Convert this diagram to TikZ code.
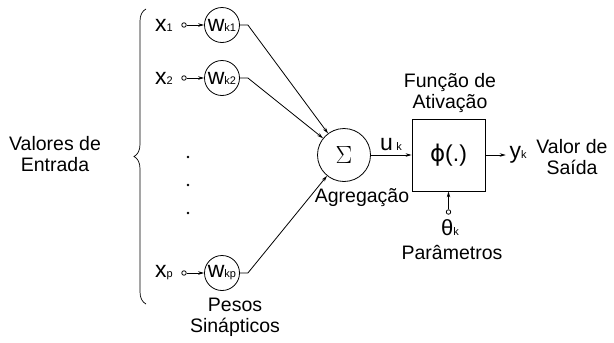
\documentclass[tikz,border=0pt]{standalone}
\usepackage{fontspec}
\setmainfont{Liberation Sans}
\newfontfamily\grk{DejaVu Sans}
\usetikzlibrary{arrows.meta,decorations.pathreplacing}

\newcommand{\biglet}[1]{{\fontsize{23}{23}\selectfont #1}}
\newcommand{\sublet}[1]{{\fontsize{11}{11}\selectfont #1}}

\begin{document}
\begin{tikzpicture}[x = 1pt, y = -1pt, line width = .8pt,
  font = \fontsize{19.5}{21}\selectfont,
  weight/.style = {draw, circle, minimum size = 35pt, inner sep = 0pt},
  inlet/.style = {draw, circle, minimum size = 4.5pt, inner sep = 0pt},
  vdot/.style = {circle, fill, inner sep = .9pt},
  arr/.style = {-{Stealth[length = 6pt, width = 3.5pt]}}]
\useasboundingbox (0,0) rectangle (614,343);
% entradas e pesos
\node (x1) at (164,25) {\biglet{x}\sublet{1}};
\node (x2) at (164,78) {\biglet{x}\sublet{2}};
\node (xp) at (164,273) {\biglet{x}\sublet{p}};
\node[inlet] (i1) at (184,25) {};
\node[inlet] (i2) at (184,78) {};
\node[inlet] (ip) at (184,273) {};
\node[weight] (w1) at (222,25) {\biglet{w}\sublet{k1}};
\node[weight] (w2) at (222,78) {\biglet{w}\sublet{k2}};
\node[weight] (wp) at (222,273) {\biglet{w}\sublet{kp}};
\draw[arr] (i1) -- (w1);
\draw[arr] (i2) -- (w2);
\draw[arr] (ip) -- (wp);
\node[vdot] (d1) at (188,157) {};
\node[vdot] (d2) at (188,185) {};
\node[vdot] (d3) at (188,213) {};
\coordinate (btop) at (146,9);
\coordinate (bbot) at (146,304);
\draw[decorate, decoration = {brace, amplitude = 12pt}, line width = .7pt] (bbot) -- (btop);
\node[align = center] (ent) at (55,154) {Valores de\\Entrada};
\node[align = center] (pes) at (235,317) {Pesos\\Sinápticos};
% somador
\node[draw, circle, minimum size = 53pt, inner sep = 0pt] (sum) at (344,155) {\fontsize{25}{25}\selectfont$\Sigma$};
\draw[arr] (w1.east) -- ++(8,0) -- (sum);
\draw[arr] (w2.east) -- ++(8,0) -- (sum);
\draw[arr] (wp.east) -- ++(8,0) -- (sum);
\node (ag) at (362,198) {Agregação};
% ativacao
\node[draw, minimum width = 73pt, minimum height = 72pt] (act) at (448.5,155) {\fontsize{23}{23}\selectfont{\grk ϕ}(.)};
\node[align = center] (fn) at (450,93) {Função de\\Ativação};
\node (uk) at (391,145) {\biglet{u}\,\sublet{k}};
\draw[arr] (sum) -- (act);
\node (yk) at (518,155) {\biglet{y}\sublet{k}};
\draw[arr] (act) -- (yk);
\node[align = center] (sai) at (572,157) {Valor de\\Saída};
\node[inlet] (t) at (448.5,212) {};
\draw[arr] (t) -- (act);
\node (th) at (450,228) {\fontsize{22}{22}\selectfont θ\sublet{k}};
\node (par) at (452,252) {Parâmetros};
\end{tikzpicture}
\end{document}
